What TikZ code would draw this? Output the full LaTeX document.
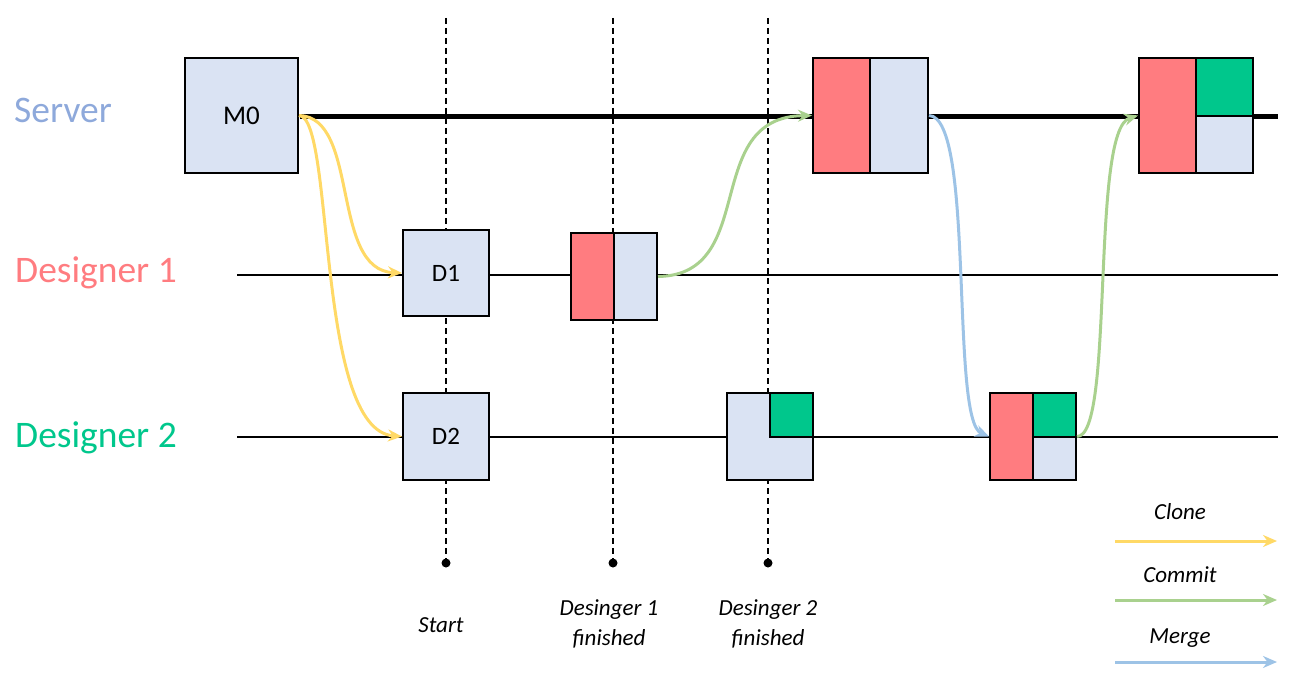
\documentclass[tikz,border=0pt]{standalone}
\usepackage{fontspec}
\setmainfont{Carlito}
\usetikzlibrary{arrows.meta}
\definecolor{cb}{HTML}{DAE3F3}
\definecolor{cr}{HTML}{FF7C80}
\definecolor{cg}{HTML}{00C78C}
\definecolor{ay}{HTML}{FFD966}
\definecolor{ag}{HTML}{A9D18E}
\definecolor{ab}{HTML}{9DC3E6}
\definecolor{lb}{HTML}{8EA9DB}
\begin{document}
\begin{tikzpicture}[x=1pt,y=-1pt,
  box/.style={draw=black,line width=2pt,inner sep=0pt},
  lane/.style={font=\fontsize{37.5}{37.5}\selectfont},
  captxt/.style={font=\fontsize{23}{30}\selectfont\itshape,align=center},
  arr/.style={line width=3pt,-{Stealth[length=14pt,width=12pt]}},
  vl/.style={dash pattern=on 6pt off 4pt,line width=2pt}]
\useasboundingbox (0,0) rectangle (1300,687);
% lanes
\node[lane,text=lb] (ls) at (63,110) {Server};
\node[lane,text=cr] (l1) at (96,273) {Designer 1};
\node[lane,text=cg] (l2) at (96,438) {Designer 2};
\coordinate (s0) at (300,117); \coordinate (s1) at (1278,117);
\coordinate (a0) at (237,275); \coordinate (a1) at (1278,275);
\coordinate (b0) at (237,437); \coordinate (b1) at (1278,437);
\draw[line width=2pt] (a0)--(a1);
\draw[line width=2pt] (b0)--(b1);
\draw[line width=5pt] (s0)--(s1);
% dashed lines
\foreach \x/\n in {446/p,613/q,768/r}{
  \coordinate (\n t) at (\x,18); \coordinate (\n b) at (\x,563);
  \draw[vl] (\n t)--(\n b);
  \fill (\n b) circle (4.5pt);
}
% M0
\node[box,fill=cb,minimum width=113pt,minimum height=115pt,font=\fontsize{27}{27}\selectfont] (m0) at (241.5,115.5) {M0};
% D1, D2
\node[box,fill=cb,minimum width=86pt,minimum height=86pt,font=\fontsize{25}{25}\selectfont] (d1) at (446,273) {D1};
\node[box,fill=cb,minimum width=86pt,minimum height=87pt,font=\fontsize{25}{25}\selectfont] (d2) at (446,436.5) {D2};
% D1 commit box
\fill[cr] (571,233) rectangle (614,320);
\fill[cb] (614,233) rectangle (657,320);
\draw[line width=2pt] (614,233)--(614,320);
\node[box,minimum width=86pt,minimum height=87pt] (c1) at (614,276.5) {};
% D2 work box
\fill[cb] (727,393) rectangle (813,480);
\fill[cg] (770,393) rectangle (813,437);
\draw[line width=2pt] (770,393)|-(813,437);
\node[box,minimum width=86pt,minimum height=87pt] (c2) at (770,436.5) {};
% server box 1
\fill[cr] (813,58) rectangle (870,173);
\fill[cb] (870,58) rectangle (928,173);
\draw[line width=2pt] (870,58)--(870,173);
\node[box,minimum width=115pt,minimum height=115pt] (s1b) at (870.5,115.5) {};
% merge box
\fill[cr] (990,393) rectangle (1033,480);
\fill[cg] (1033,393) rectangle (1076,437);
\fill[cb] (1033,437) rectangle (1076,480);
\draw[line width=2pt] (1033,393)--(1033,480) (1033,437)--(1076,437);
\node[box,minimum width=86pt,minimum height=87pt] (mg) at (1033,436.5) {};
% server box 2
\fill[cr] (1139,58) rectangle (1196,173);
\fill[cg] (1196,58) rectangle (1253,116);
\fill[cb] (1196,116) rectangle (1253,173);
\draw[line width=2pt] (1196,58)--(1196,173) (1196,116)--(1253,116);
\node[box,minimum width=114pt,minimum height=115pt] (s2b) at (1196,115.5) {};
% arrows
\draw[arr,ay] (m0.east) .. controls (360,117) and (330,270) .. (d1.west);
\draw[arr,ay] (m0.east) .. controls (335,117) and (315,430) .. (d2.west);
\draw[arr,ag] (c1.east) .. controls (760,275) and (700,117) .. (s1b.west);
\draw[arr,ab] (s1b.east) .. controls (975,117) and (950,420) .. (mg.west);
\draw[arr,ag] (mg.east) .. controls (1115,437) and (1090,130) .. (s2b.west);
% captions
\node[captxt] (t1) at (441,625) {Start};
\node[captxt] (t2) at (609,624) {Desinger 1\\finished};
\node[captxt] (t3) at (768,624) {Desinger 2\\finished};
% legend
\node[captxt] (lc) at (1180,512) {Clone};
\node[captxt] (lm) at (1180,575) {Commit};
\node[captxt] (lg) at (1180,638) {Merge};
\coordinate (e1) at (1115,541); \coordinate (f1) at (1277,541);
\coordinate (e2) at (1115,600); \coordinate (f2) at (1277,600);
\coordinate (e3) at (1115,662); \coordinate (f3) at (1277,662);
\draw[arr,ay] (e1)--(f1);
\draw[arr,ag] (e2)--(f2);
\draw[arr,ab] (e3)--(f3);
\end{tikzpicture}
\end{document}
